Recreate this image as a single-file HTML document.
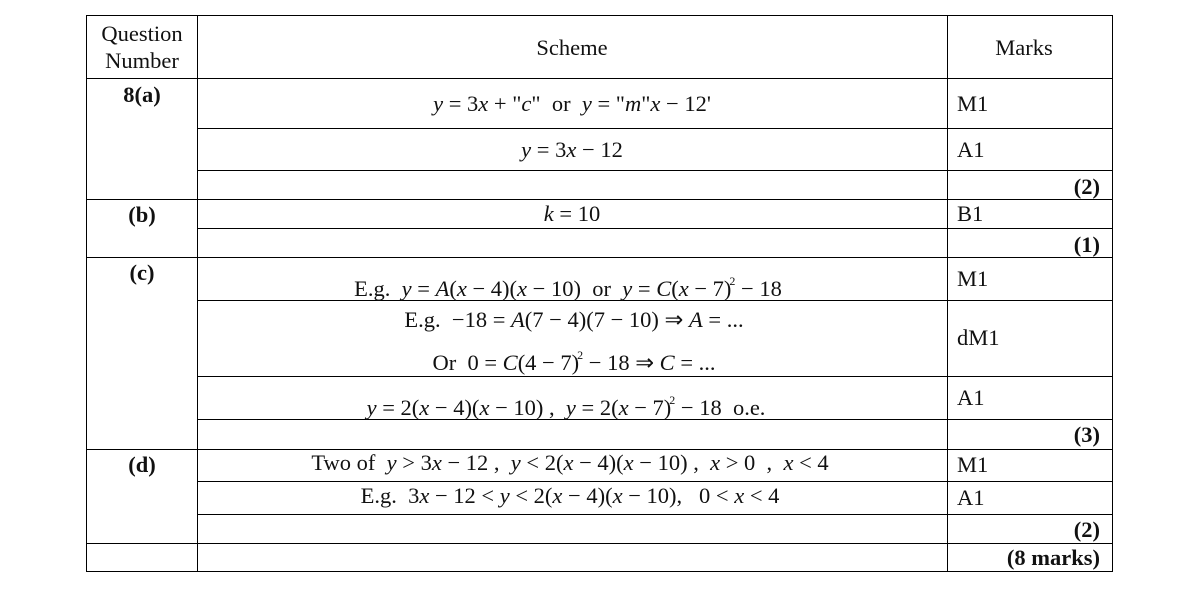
<!DOCTYPE html>
<html><head><meta charset="utf-8"><style>
body{margin:0;width:1194px;height:594px;background:#fff;position:relative;overflow:hidden;font-family:"Liberation Serif",serif;font-size:22.5px;color:#111}
.h{position:absolute;height:1px;background:#000}
.v{position:absolute;width:1px;background:#000}
.t{position:absolute;white-space:nowrap;line-height:24px}
.c{transform:translateX(-50%)}
i{font-style:italic}
b{font-weight:bold}
sup{font-size:12px;vertical-align:11px;margin-left:-2px}
</style></head><body>
<div class="h" style="left:86px;width:1027px;top:15px"></div>
<div class="h" style="left:86px;width:1027px;top:78px"></div>
<div class="h" style="left:197px;width:916px;top:128px"></div>
<div class="h" style="left:197px;width:916px;top:170px"></div>
<div class="h" style="left:86px;width:1027px;top:199px"></div>
<div class="h" style="left:197px;width:916px;top:228px"></div>
<div class="h" style="left:86px;width:1027px;top:257px"></div>
<div class="h" style="left:197px;width:916px;top:300px"></div>
<div class="h" style="left:197px;width:916px;top:376px"></div>
<div class="h" style="left:197px;width:916px;top:419px"></div>
<div class="h" style="left:86px;width:1027px;top:449px"></div>
<div class="h" style="left:197px;width:916px;top:481px"></div>
<div class="h" style="left:197px;width:916px;top:514px"></div>
<div class="h" style="left:86px;width:1027px;top:543px"></div>
<div class="h" style="left:86px;width:1027px;top:571px"></div>
<div class="v" style="left:86px;top:15px;height:557px"></div>
<div class="v" style="left:197px;top:15px;height:557px"></div>
<div class="v" style="left:947px;top:15px;height:557px"></div>
<div class="v" style="left:1112px;top:15px;height:557px"></div>

<div class="t c" style="left:142px;top:22px">Question</div>
<div class="t c" style="left:142px;top:49px">Number</div>
<div class="t c" style="left:572px;top:36px">Scheme</div>
<div class="t c" style="left:1024px;top:36px">Marks</div>

<div class="t c" style="left:142px;top:83px"><b>8(a)</b></div>
<div class="t c" style="left:142px;top:203px"><b>(b)</b></div>
<div class="t c" style="left:142px;top:261px"><b>(c)</b></div>
<div class="t c" style="left:142px;top:453px"><b>(d)</b></div>

<div class="t c" style="left:572px;top:92px"><i>y</i> = 3<i>x</i> + "<i>c</i>"&nbsp; or &nbsp;<i>y</i> = "<i>m</i>"<i>x</i> − 12'</div>
<div class="t c" style="left:572px;top:138px"><i>y</i> = 3<i>x</i> − 12</div>
<div class="t c" style="left:572px;top:202px"><i>k</i> = 10</div>
<div class="t c" style="left:568px;top:269px">E.g.&nbsp; <i>y</i> = <i>A</i>(<i>x</i> − 4)(<i>x</i> − 10)&nbsp; or &nbsp;<i>y</i> = <i>C</i>(<i>x</i> − 7)<sup>2</sup> − 18</div>
<div class="t c" style="left:574px;top:308px">E.g.&nbsp; −18 = <i>A</i>(7 − 4)(7 − 10) ⇒ <i>A</i> = ...</div>
<div class="t c" style="left:574px;top:343px">Or&nbsp; 0 = <i>C</i>(4 − 7)<sup>2</sup> − 18 ⇒ <i>C</i> = ...</div>
<div class="t c" style="left:566px;top:388px"><i>y</i> = 2(<i>x</i> − 4)(<i>x</i> − 10) ,&nbsp; <i>y</i> = 2(<i>x</i> − 7)<sup>2</sup> − 18&nbsp; o.e.</div>
<div class="t c" style="left:570px;top:451px">Two of&nbsp; <i>y</i> &gt; 3<i>x</i> − 12 ,&nbsp; <i>y</i> &lt; 2(<i>x</i> − 4)(<i>x</i> − 10) ,&nbsp; <i>x</i> &gt; 0&nbsp; ,&nbsp; <i>x</i> &lt; 4</div>
<div class="t c" style="left:570px;top:484px">E.g.&nbsp; 3<i>x</i> − 12 &lt; <i>y</i> &lt; 2(<i>x</i> − 4)(<i>x</i> − 10),&nbsp;&nbsp; 0 &lt; <i>x</i> &lt; 4</div>

<div class="t" style="left:957px;top:92px">M1</div>
<div class="t" style="left:957px;top:138px">A1</div>
<div class="t" style="left:957px;top:202px">B1</div>
<div class="t" style="left:957px;top:267px">M1</div>
<div class="t" style="left:957px;top:326px">dM1</div>
<div class="t" style="left:957px;top:386px">A1</div>
<div class="t" style="left:957px;top:453px">M1</div>
<div class="t" style="left:957px;top:486px">A1</div>

<div class="t" style="right:94px;top:175px"><b>(2)</b></div>
<div class="t" style="right:94px;top:233px"><b>(1)</b></div>
<div class="t" style="right:94px;top:423px"><b>(3)</b></div>
<div class="t" style="right:94px;top:518px"><b>(2)</b></div>
<div class="t" style="right:94px;top:546px"><b>(8 marks)</b></div>
</body></html>
